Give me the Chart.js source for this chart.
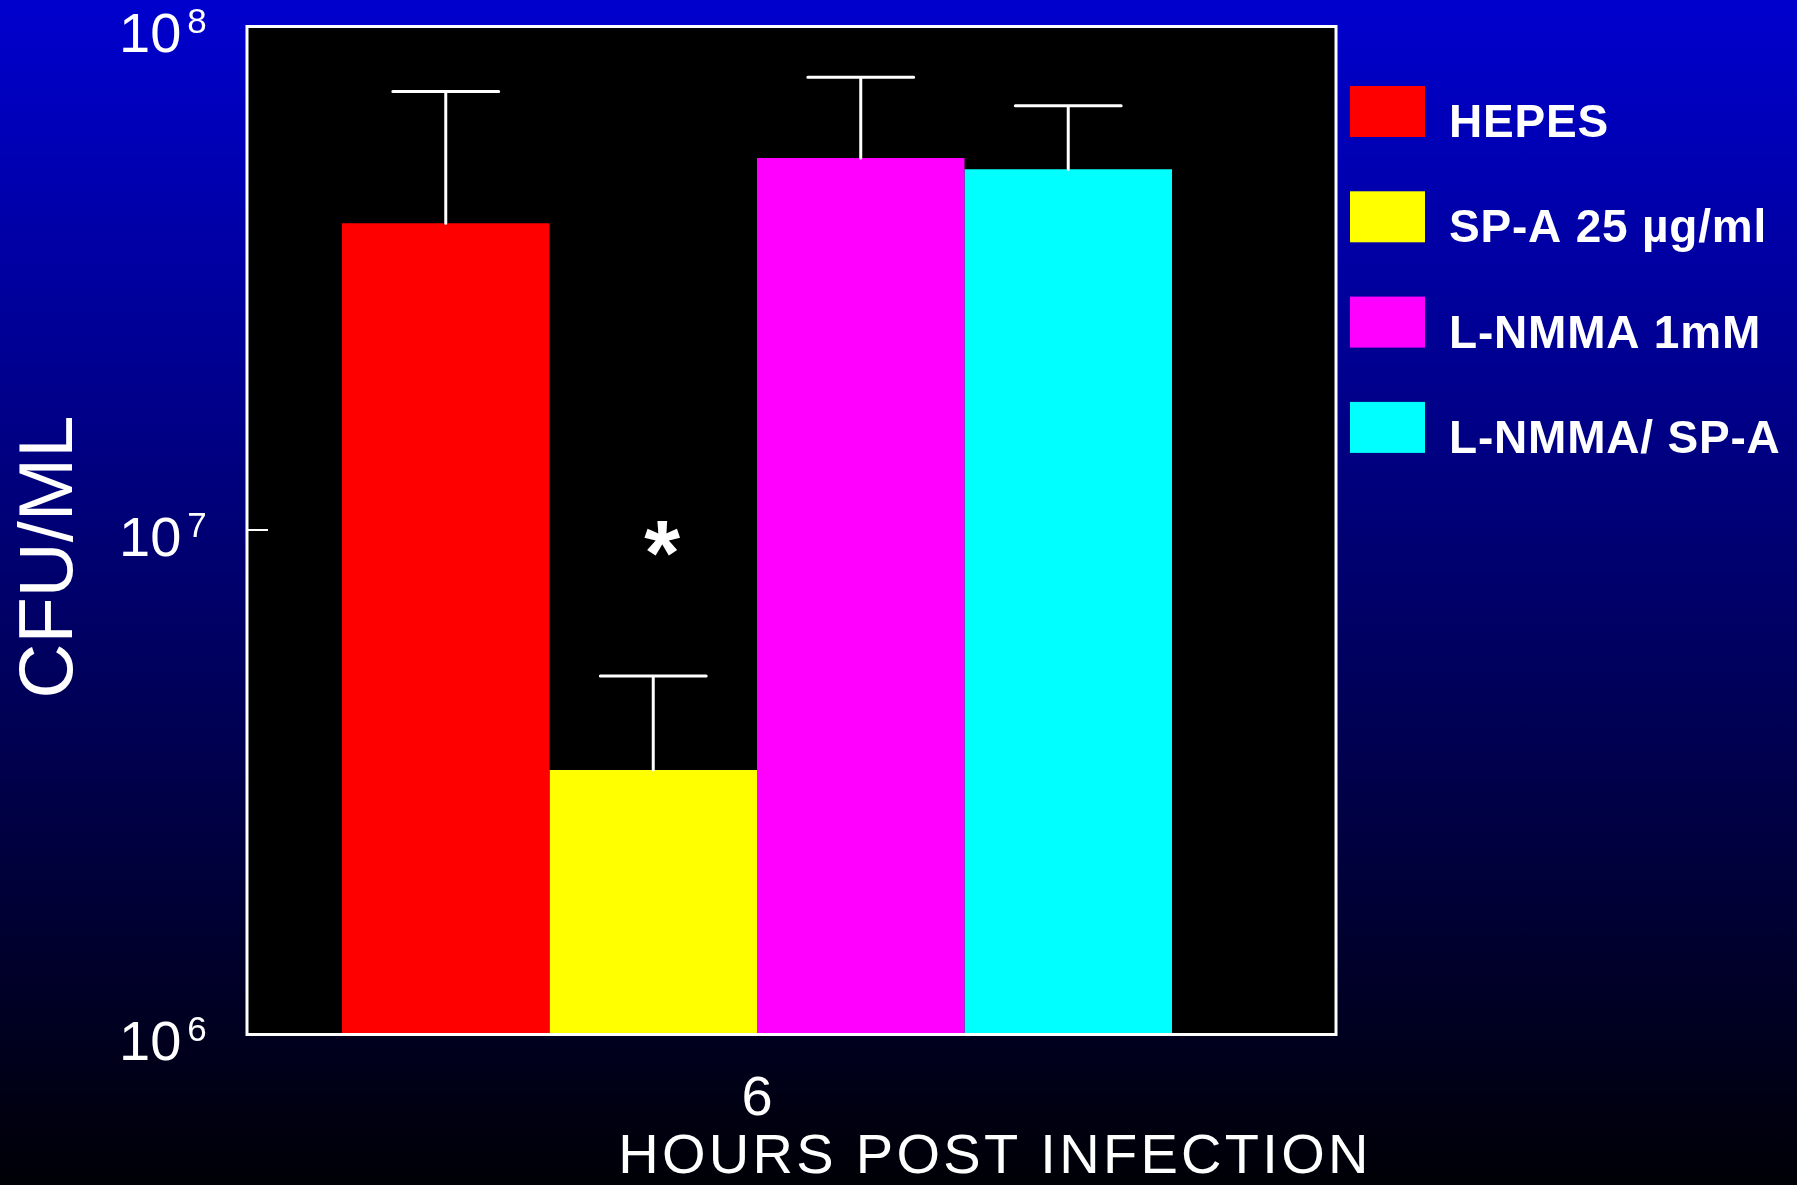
<!DOCTYPE html>
<html>
<head>
<meta charset="utf-8">
<title>CFU/ML at 6 hours post infection</title>
<script src="https://cdn.jsdelivr.net/npm/chart.js@4.4.1/dist/chart.umd.min.js"></script>
<style>
  html, body { margin: 0; padding: 0; }
  body {
    width: 1797px;
    height: 1185px;
    overflow: hidden;
    background: linear-gradient(to bottom, rgb(0, 0, 206), rgb(0, 0, 6));
  }
  canvas { display: block; }
</style>
</head>
<body>
<canvas id="cfuChart" width="1797" height="1185"></canvas>
<script>
  // data
  const categories = ["6"];
  const seriesLabels = ["HEPES", "SP-A 25 µg/ml", "L-NMMA 1mM", "L-NMMA/ SP-A"];
  const cfuMean = [4.06e7, 3.34e6, 5.47e7, 5.2e7];
  const cfuError = [3.35e7, 1.79e6, 2.44e7, 1.75e7];
  const significance = ["", "*", "", ""];
  const yTicks = [1e6, 1e7, 1e8];

  const colors = ["#ff0000", "#ffff00", "#ff00ff", "#00ffff"];
  const font = "'Liberation Sans', Arial, sans-serif";
  const frameExtra = 69; // frame runs a bit past the category band on the right

  function spacing(ctx, v) {
    if ("letterSpacing" in ctx) ctx.letterSpacing = v;
  }

  // frame, error bars, labels, legend
  const decor = {
    id: "decor",
    beforeDatasetsDraw(chart) {
      const { ctx, chartArea: a } = chart;
      ctx.save();
      ctx.fillStyle = "#000";
      ctx.fillRect(a.left, a.top, a.right + frameExtra - a.left, a.bottom - a.top);
      ctx.restore();
    },
    afterDatasetsDraw(chart) {
      const { ctx, chartArea: a, scales } = chart;
      const y = scales.y, x = scales.x;
      const frameRight = a.right + frameExtra;
      ctx.save();

      // error bars + significance
      ctx.strokeStyle = "#fff";
      ctx.lineWidth = 3;
      ctx.lineCap = "round";
      chart.data.datasets.forEach((ds, i) => {
        const bar = chart.getDatasetMeta(i).data[0];
        const capY = y.getPixelForValue(cfuMean[i] + cfuError[i]);
        const half = bar.width * 0.255;
        ctx.beginPath();
        ctx.moveTo(bar.x, bar.y);
        ctx.lineTo(bar.x, capY);
        ctx.moveTo(bar.x - half, capY);
        ctx.lineTo(bar.x + half, capY);
        ctx.stroke();
        if (significance[i]) {
          ctx.fillStyle = "#fff";
          ctx.font = "bold 92px " + font;
          ctx.textAlign = "center";
          ctx.textBaseline = "alphabetic";
          const m = ctx.measureText(significance[i]);
          const cy = capY - 138;
          ctx.fillText(significance[i], bar.x + 9, cy + (m.actualBoundingBoxAscent - m.actualBoundingBoxDescent) / 2);
        }
      });

      // frame
      ctx.lineCap = "butt";
      ctx.lineWidth = 3;
      ctx.strokeRect(a.left, a.top + 0.5, frameRight - a.left, a.bottom - a.top);

      // inner ticks + y labels 10^n
      ctx.fillStyle = "#fff";
      ctx.textAlign = "left";
      ctx.textBaseline = "alphabetic";
      y.ticks.forEach((t) => {
        const py = y.getPixelForValue(t.value);
        if (t.value > y.min && t.value < y.max) {
          ctx.lineWidth = 2;
          ctx.beginPath();
          ctx.moveTo(a.left, py);
          ctx.lineTo(a.left + 21, py);
          ctx.stroke();
        }
        const exp = String(Math.round(Math.log10(t.value)));
        ctx.font = "56px " + font;
        ctx.fillText("10", 119, py + 26);
        const w = ctx.measureText("10").width;
        ctx.font = "35px " + font;
        ctx.fillText(exp, 119 + w + 6, py + 7);
      });

      // x category label
      ctx.font = "56px " + font;
      ctx.textAlign = "center";
      categories.forEach((c, i) => {
        ctx.fillText(c, x.getPixelForValue(i), a.bottom + 81);
      });

      // x title
      spacing(ctx, "3.3px");
      ctx.fillText("HOURS POST INFECTION", 995, a.bottom + 139);
      spacing(ctx, "0px");

      // y title
      ctx.save();
      ctx.translate(72, 557);
      ctx.rotate(-Math.PI / 2);
      ctx.font = "76px " + font;
      ctx.textAlign = "center";
      ctx.fillText("CFU/ML", 0, 0);
      ctx.restore();

      // legend
      ctx.textAlign = "left";
      ctx.font = "bold 46px " + font;
      spacing(ctx, "0.8px");
      chart.data.datasets.forEach((ds, i) => {
        const top = 86 + i * 105.3;
        ctx.fillStyle = ds.backgroundColor;
        ctx.fillRect(frameRight + 14, top, 75, 51);
        ctx.fillStyle = "#fff";
        ctx.fillText(ds.label, frameRight + 113, top + 51);
      });
      spacing(ctx, "0px");

      ctx.restore();
    },
  };

  new Chart(document.getElementById("cfuChart"), {
    type: "bar",
    data: {
      labels: categories,
      datasets: seriesLabels.map((label, i) => ({
        label: label,
        data: [cfuMean[i]],
        backgroundColor: colors[i],
        borderWidth: 0,
      })),
    },
    options: {
      responsive: false,
      animation: false,
      layout: { padding: { left: 247, top: 26, right: 530, bottom: 151 } },
      datasets: { bar: { categoryPercentage: 0.8137, barPercentage: 1 } },
      plugins: { legend: { display: false }, tooltip: { enabled: false } },
      scales: {
        x: { display: false, offset: true, grid: { display: false } },
        y: {
          type: "logarithmic",
          display: false,
          min: 1e6,
          max: 1e8,
          grid: { display: false },
          afterBuildTicks: (s) => { s.ticks = yTicks.map((v) => ({ value: v })); },
        },
      },
    },
    plugins: [decor],
  });
</script>
</body>
</html>
